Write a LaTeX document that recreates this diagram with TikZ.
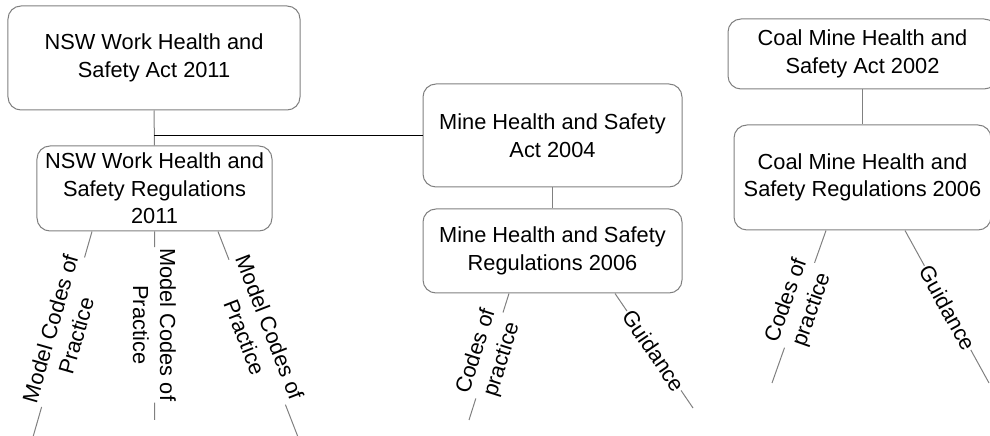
\documentclass[tikz,border=0pt]{standalone}
\usepackage{fontspec}
\setmainfont{Liberation Sans}
\usetikzlibrary{calc}
\definecolor{edgegray}{RGB}{128,128,128}
\tikzset{
  box/.style={draw=edgegray, line width=1bp, rounded corners=13bp, align=center,
    inner sep=0pt, font=\fontsize{21.8bp}{27.5bp}\selectfont, text=black},
  lab/.style={align=center, inner sep=1.2bp, font=\fontsize{21.8bp}{27bp}\selectfont, text=black},
  conn/.style={draw=edgegray, line width=1bp},
  link/.style={draw=black, line width=1bp}
}
\begin{document}
\begin{tikzpicture}[x=1bp,y=-1bp]
\useasboundingbox (0,0) rectangle (990,436);
% boxes
\node[box, minimum width=292bp, minimum height=104bp] (nswact) at (154,58) {NSW Work Health and\\Safety Act 2011};
\node[box, minimum width=235bp, minimum height=85bp] (nswreg) at (154.5,188.5) {NSW Work Health and\\Safety Regulations\\2011};
\node[box, minimum width=259bp, minimum height=103bp] (mineact) at (552.5,135.5) {Mine Health and Safety\\Act 2004};
\node[box, minimum width=259bp, minimum height=84bp] (minereg) at (552.5,251) {Mine Health and Safety\\Regulations 2006};
\node[box, minimum width=269bp, minimum height=70bp] (coalact) at (862.5,54) {Coal Mine Health and\\Safety Act 2002};
\node[box, minimum width=257bp, minimum height=105bp] (coalreg) at (862.5,177.5) {Coal Mine Health and\\Safety Regulations 2006};
% main connectors
\draw[conn] (nswact.south) -- (nswreg.north);
\coordinate (j1) at ($(nswact.south)!0.72!(nswreg.north)$);
\draw[link] (j1) -- (j1 -| mineact.west);
\draw[conn] (mineact.south) -- (minereg.north);
\draw[conn] (coalact.south) -- (coalreg.north);
% NSW branches
\coordinate (s1) at ([xshift=-62.5bp]nswreg.south);
\coordinate (e1) at (33,437);
\node[lab, rotate=74] (l1) at ($(s1)!0.49!(e1)$) {Model Codes of\\Practice};
\draw[conn] (s1) -- (l1) (l1) -- (e1);
\coordinate (s2) at (nswreg.south);
\coordinate (e2) at (154.5,420);
\node[lab, rotate=-90] (l2) at ($(s2)!0.495!(e2)$) {Model Codes of\\Practice};
\draw[conn] (s2) -- (l2) (l2) -- (e2);
\coordinate (s3) at ([xshift=63.5bp]nswreg.south);
\coordinate (e3) at (298,437);
\node[lab, rotate=-68.8] (l3) at ($(s3)!0.49!(e3)$) {Model Codes of\\Practice};
\draw[conn] (s3) -- (l3) (l3) -- (e3);
% Mine branches
\coordinate (s4) at ([xshift=-43.5bp]minereg.south);
\coordinate (e4) at (469,420);
\node[lab, rotate=72.5] (l4) at ($(s4)!0.49!(e4)$) {Codes of\\practice};
\draw[conn] (s4) -- (l4) (l4) -- (e4);
\coordinate (s5) at ([xshift=62.5bp]minereg.south);
\coordinate (e5) at (693,408);
\node[lab, rotate=-55.8] (l5) at ($(s5)!0.5!(e5)$) {Guidance};
\draw[conn] (s5) -- (l5) (l5) -- (e5);
% Coal branches
\coordinate (s6) at ([xshift=-36.5bp]coalreg.south);
\coordinate (e6) at (772,383);
\node[lab, rotate=70.6] (l6) at ($(s6)!0.49!(e6)$) {Codes of\\practice};
\draw[conn] (s6) -- (l6) (l6) -- (e6);
\coordinate (s7) at ([xshift=42.5bp]coalreg.south);
\coordinate (e7) at (989,383);
\node[lab, rotate=-61.2] (l7) at ($(s7)!0.507!(e7)$) {Guidance};
\draw[conn] (s7) -- (l7) (l7) -- (e7);
\end{tikzpicture}
\end{document}
